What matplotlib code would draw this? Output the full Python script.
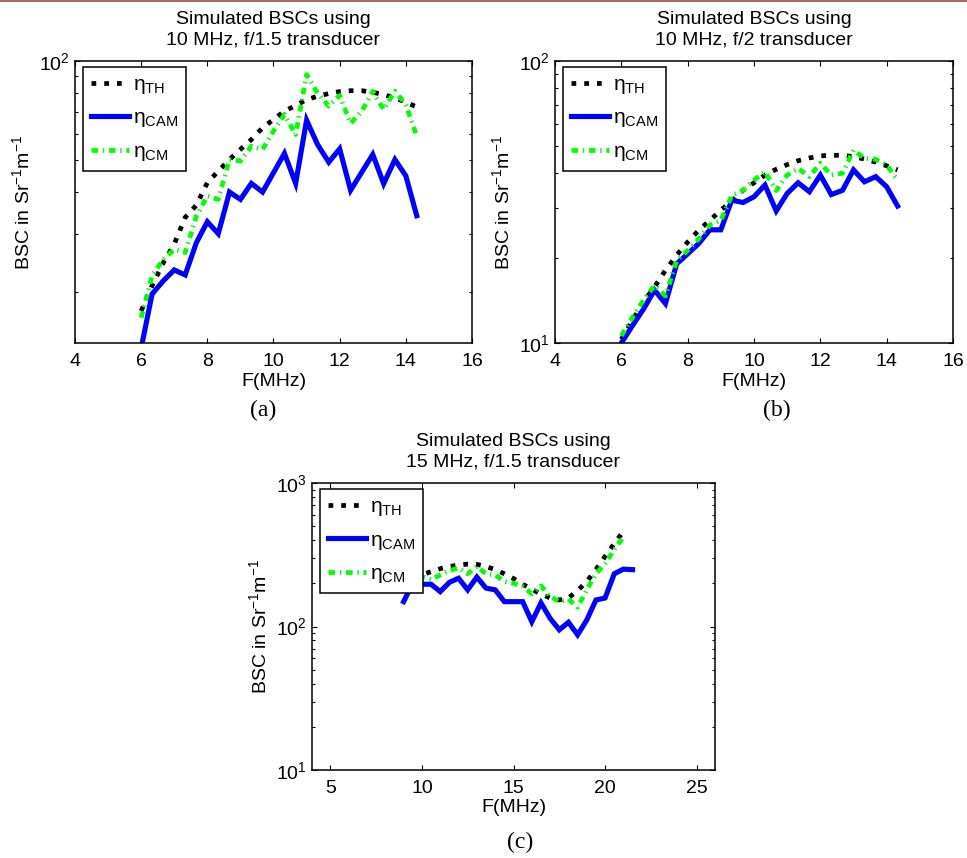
import matplotlib
matplotlib.use("Agg")
import matplotlib.pyplot as plt
from matplotlib.lines import Line2D
from matplotlib.ticker import NullFormatter, LogLocator

plt.rcParams["font.family"] = ["Liberation Sans", "DejaVu Sans"]
plt.rcParams["mathtext.fontset"] = "custom"
plt.rcParams["mathtext.rm"] = "Liberation Sans"
plt.rcParams["mathtext.it"] = "Liberation Sans:italic"
plt.rcParams["mathtext.bf"] = "Liberation Sans:bold"
plt.rcParams["font.size"] = 14

# frequency grids (MHz)
freq_10 = [6.0, 6.33, 6.67, 7.0, 7.33, 7.67, 8.0, 8.33, 8.67, 9.0, 9.33, 9.67, 10.0,
           10.33, 10.67, 11.0, 11.33, 11.67, 12.0, 12.33, 12.67, 13.0, 13.33, 13.67,
           14.0, 14.33]
freq_15 = [9.0, 9.5, 10.0, 10.5, 11.0, 11.5, 12.0, 12.5, 13.0, 13.5, 14.0, 14.5, 15.0,
           15.5, 16.0, 16.5, 17.0, 17.5, 18.0, 18.5, 19.0, 19.5, 20.0, 20.5, 21.0, 21.5]

# (a) 10 MHz, f/1.5
th_a = [17.5, 20.9, 24.5, 27.9, 33.6, 36.6, 42.8, 46.4, 50.3, 54.0, 57.8, 62.8, 66.5,
        70.5, 73.3, 76.4, 78.2, 79.7, 80.8, 81.3, 81.3, 80.4, 79.1, 77.3, 75.0, 72.6]
cam_a = [13.5, 19.7, 21.6, 23.3, 22.5, 28.2, 32.6, 30.0, 40.1, 38.1, 42.6, 40.1, 45.9,
         52.5, 42.6, 66.2, 55.9, 49.4, 54.2, 40.6, 46.1, 52.1, 42.5, 50.3, 44.9, 34.0]
cm_a = [16.7, 22.4, 25.1, 26.9, 26.3, 34.0, 39.0, 38.1, 50.3, 49.8, 55.2, 54.0, 61.4,
        68.9, 59.9, 91.0, 80.0, 73.0, 78.6, 64.7, 70.5, 81.0, 71.3, 81.0, 73.8, 59.2]

# (b) 10 MHz, f/2
th_b = [10.3, 12.0, 14.0, 15.8, 18.1, 20.5, 22.8, 25.1, 27.2, 29.6, 31.8, 34.8, 37.0,
        39.4, 41.3, 42.9, 44.3, 45.3, 46.1, 46.3, 46.3, 45.8, 44.9, 43.8, 42.5, 41.1]
cam_b = [10.0, 11.5, 13.2, 15.4, 13.8, 19.1, 20.7, 22.5, 25.2, 25.2, 32.1, 31.5, 33.0,
         36.3, 29.4, 33.9, 37.0, 34.4, 39.4, 33.6, 34.8, 41.1, 37.3, 38.9, 35.8, 30.6]
cm_b = [10.6, 12.3, 14.2, 16.0, 14.7, 19.6, 21.3, 23.4, 26.2, 27.2, 33.4, 34.8, 37.8,
        40.5, 34.7, 39.4, 41.6, 38.9, 43.4, 39.4, 40.0, 48.3, 45.2, 44.8, 42.8, 37.8]

# (c) 15 MHz, f/1.5 (TH and CM stop at 21 MHz)
th_c = [195, 212, 229, 241, 253, 262, 268, 272, 271, 262, 249, 233, 216,
        197, 182, 168, 158, 153, 158, 178, 206, 249, 308, 378, 460]
cam_c = [149, 200, 197, 197, 175, 203, 217, 180, 221, 185, 180, 149, 149,
         149, 108, 146, 114, 94.8, 107, 87.5, 111, 153, 158, 233, 251, 249]
cm_c = [190, 206, 223, 212, 229, 246, 255, 233, 262, 233, 229, 206, 200,
        190, 169, 192, 162, 149, 155, 136, 180, 233, 274, 343, 422]

titles = ["Simulated BSCs using\n10 MHz, f/1.5 transducer",
          "Simulated BSCs using\n10 MHz, f/2 transducer",
          "Simulated BSCs using\n15 MHz, f/1.5 transducer"]
panel_tags = ["(a)", "(b)", "(c)"]

W, H = 967, 858


def px_axes(fig, left, top, right, bottom):
    return fig.add_axes([left / W, 1 - bottom / H, (right - left) / W, (bottom - top) / H])


def draw_panel(ax, x, th, cam, cm, title, xlim, ylim, xticks, ylabel_x):
    lw = 3.4
    ax.plot(x[:len(th)], th, color="black", lw=lw, linestyle=(0, (1, 1.7)),
            dash_capstyle="butt", label=r"$\mathrm{\eta}_{\mathrm{TH}}$")
    ax.plot(x[:len(cam)], cam, color="#0000ff", lw=lw + 0.3,
            solid_joinstyle="miter", label=r"$\mathrm{\eta}_{\mathrm{CAM}}$")
    ax.plot(x[:len(cm)], cm, color="#00ff00", lw=lw,
            linestyle=(0, (1.4, 1.0, 0.3, 1.0)), dash_capstyle="butt",
            label=r"$\mathrm{\eta}_{\mathrm{CM}}$")

    ax.set_yscale("log")
    ax.set_xlim(*xlim)
    ax.set_ylim(*ylim)
    ax.set_xticks(xticks)
    ax.yaxis.set_major_locator(LogLocator(base=10))
    ax.yaxis.set_minor_locator(LogLocator(base=10, subs=range(2, 10)))
    ax.yaxis.set_minor_formatter(NullFormatter())

    ax.tick_params(which="both", direction="in", top=True, right=True, width=0.8)
    ax.tick_params(which="major", length=3.5)
    ax.tick_params(which="minor", length=2.2)
    ax.tick_params(axis="x", pad=7, labelsize=14)
    ax.tick_params(axis="y", pad=4, labelsize=14)
    for sp in ax.spines.values():
        sp.set_linewidth(1.1)

    ax.set_title(title, fontsize=14, pad=12, linespacing=1.22)
    ax.set_xlabel("F(MHz)", fontsize=14, labelpad=2)
    ax.set_ylabel(r"BSC in Sr$^{-1}$m$^{-1}$", fontsize=14)
    ax.yaxis.set_label_coords(ylabel_x, 0.5)

    leg = ax.legend(loc="upper left", bbox_to_anchor=(0.02, 0.98), borderaxespad=0,
                    fontsize=15, handlelength=1.8, handletextpad=0.2,
                    labelspacing=0.6, borderpad=0.4, fancybox=False, framealpha=1)
    leg.get_frame().set_edgecolor("black")
    leg.get_frame().set_linewidth(1.1)


fig = plt.figure(figsize=(W / 100, H / 100), dpi=100)

ax_a = px_axes(fig, 75, 61, 472, 343)
draw_panel(ax_a, freq_10, th_a, cam_a, cm_a, titles[0], (4, 16), (14, 100),
           [4, 6, 8, 10, 12, 14, 16], -0.106)

ax_b = px_axes(fig, 555, 61, 953, 343)
draw_panel(ax_b, freq_10, th_b, cam_b, cm_b, titles[1], (4, 16), (10, 100),
           [4, 6, 8, 10, 12, 14, 16], -0.106)

ax_c = px_axes(fig, 312, 483, 715, 770)
draw_panel(ax_c, freq_15, th_c, cam_c, cm_c, titles[2], (4, 26), (10, 1000),
           [5, 10, 15, 20, 25], -0.103)

tag_pos = [(263, 410), (777, 410), (520, 842)]
for tag, (tx, ty) in zip(panel_tags, tag_pos):
    fig.text(tx / W, 1 - ty / H, tag, ha="center", va="center",
             family="Liberation Serif", fontsize=17)

# thin page border at the top
fig.add_artist(Line2D([0, 1], [1 - 0.8 / H, 1 - 0.8 / H], color="#a04848", lw=1.2))

fig.savefig("out.png", dpi=100)
plt.close(fig)
